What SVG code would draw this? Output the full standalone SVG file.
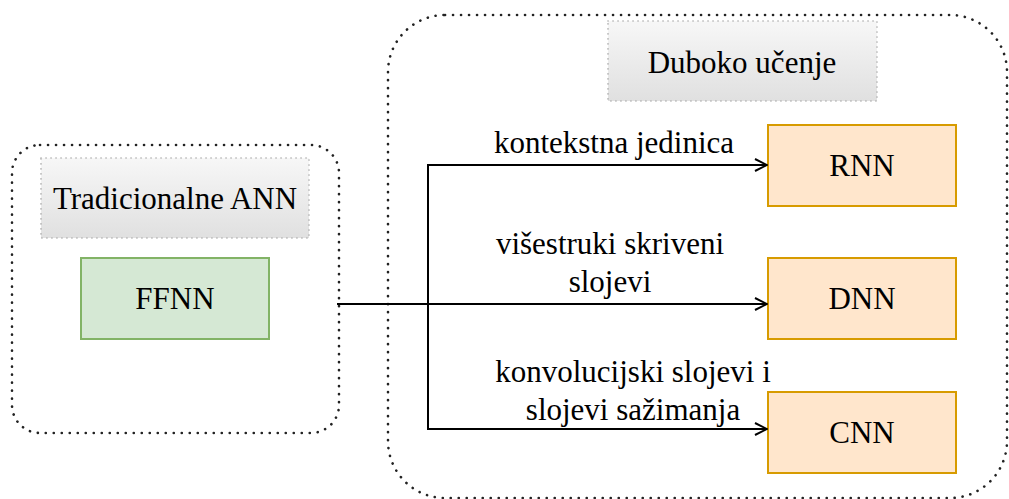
<svg xmlns="http://www.w3.org/2000/svg" width="1009" height="499" viewBox="0 0 1009 499">
<defs>
<linearGradient id="gray" x1="0" y1="0" x2="0" y2="1">
<stop offset="0" stop-color="#f7f7f7"/>
<stop offset="1" stop-color="#e0e0e0"/>
</linearGradient>
<marker id="open" markerWidth="14" markerHeight="14" refX="13" refY="7" orient="auto" markerUnits="userSpaceOnUse">
<path d="M1,1 L13,7 L1,13" fill="none" stroke="#000" stroke-width="2"/>
</marker>
<style>
.container{fill:none;stroke:#222;stroke-width:2.6;stroke-dasharray:0.1 7.9;stroke-linecap:round}
.label{fill:url(#gray);stroke:#aaa;stroke-width:1.6;stroke-dasharray:0.1 4.9;stroke-linecap:round}
.green{fill:#d5e8d4;stroke:#82b366;stroke-width:2}
.orange{fill:#ffe6cc;stroke:#d79b00;stroke-width:2}
.t{font-family:"Liberation Serif","Times New Roman",serif;font-size:31px;fill:#000;text-anchor:middle}
.edge{fill:none;stroke:#000;stroke-width:2}
</style>
</defs>
<g id="traditional">
<rect class="container" x="12" y="145" width="327" height="288" rx="28"/>
<g id="traditional-label">
<rect class="label" x="41" y="158" width="268" height="80"/>
<text class="t" x="175" y="209">Tradicionalne ANN</text>
</g>
<g id="ffnn">
<rect class="green" x="81" y="258" width="188" height="81"/>
<text class="t" x="175" y="309">FFNN</text>
</g>
</g>
<g id="deep">
<rect class="container" x="388" y="15" width="619" height="483" rx="57"/>
<g id="deep-label">
<rect class="label" x="608" y="21" width="269" height="80"/>
<text class="t" x="742" y="73">Duboko učenje</text>
</g>
<g id="rnn">
<rect class="orange" x="768" y="125" width="188" height="81"/>
<text class="t" x="862" y="176">RNN</text>
</g>
<g id="dnn">
<rect class="orange" x="768" y="258" width="188" height="81"/>
<text class="t" x="862" y="309">DNN</text>
</g>
<g id="cnn">
<rect class="orange" x="768" y="392" width="188" height="81"/>
<text class="t" x="862" y="443">CNN</text>
</g>
</g>
<g id="connectors">
<path class="edge" d="M337,304 L767,304" marker-end="url(#open)"/>
<path class="edge" d="M428,304 L428,165 L767,165" marker-end="url(#open)"/>
<path class="edge" d="M428,304 L428,429 L767,429" marker-end="url(#open)"/>
<text class="t" x="614" y="153">kontekstna jedinica</text>
<text class="t" x="610" y="254">višestruki skriveni</text>
<text class="t" x="610" y="292">slojevi</text>
<text class="t" x="633" y="382">konvolucijski slojevi i</text>
<text class="t" x="633" y="420">slojevi sažimanja</text>
</g>
</svg>
